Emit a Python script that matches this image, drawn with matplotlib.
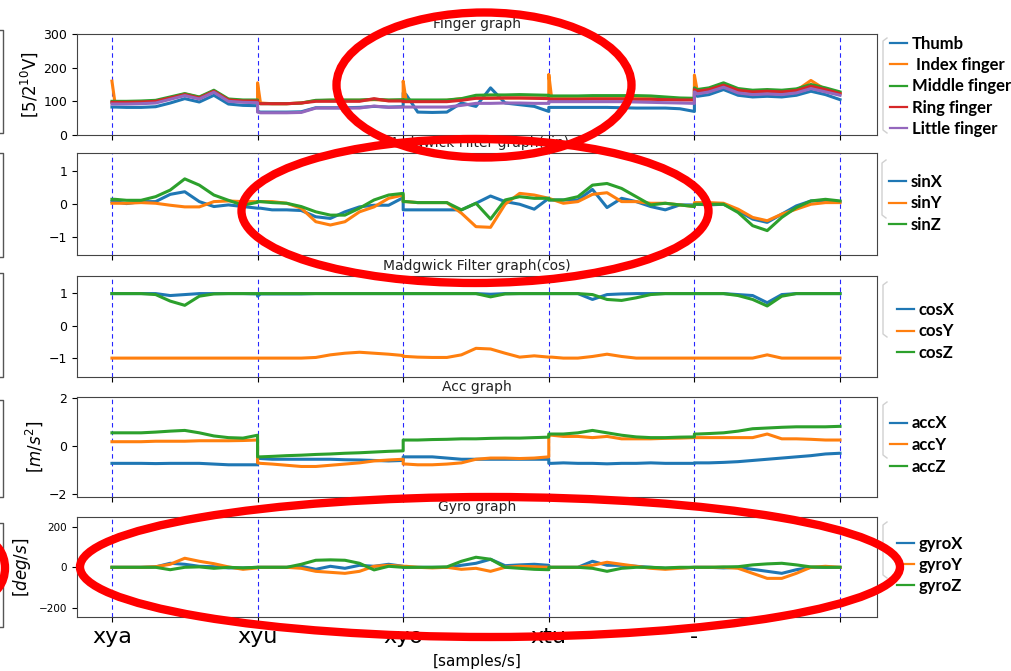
import matplotlib
matplotlib.use('Agg')
import matplotlib.pyplot as plt
from matplotlib.patches import Ellipse
from matplotlib.lines import Line2D
from matplotlib.font_manager import FontProperties

# ---------------- data ----------------
seg_offsets = [0.0, 0.02, 0.1, 0.2, 0.3, 0.4, 0.5, 0.6, 0.7, 0.8, 0.9, 1.0]
segments = [0, 1, 2, 3, 4]
x = [s + o for s in segments for o in seg_offsets]

segment_ticks = [0, 1, 2, 3, 4, 5]
tick_labels = ['xya', 'xyu', 'xyo', 'xtu', '-', '']

finger_labels = ['Thumb', ' Index finger', 'Middle finger', 'Ring finger', 'Little finger']
thumb = [83, 83, 82, 82, 84, 95, 108, 98, 118, 92, 88, 87,
         70, 68, 68, 68, 69, 81, 81, 81, 82, 85, 83, 84,
         125, 120, 68, 67, 68, 95, 85, 140, 95, 90, 85, 70,
         82, 82, 82, 82, 82, 82, 81, 80, 80, 80, 78, 70,
         120, 115, 120, 135, 118, 113, 115, 113, 118, 130, 120, 105]
index_f = [160, 98, 97, 97, 100, 110, 122, 112, 130, 105, 102, 102,
           155, 95, 93, 93, 95, 102, 103, 103, 103, 105, 103, 103,
           160, 103, 102, 102, 103, 108, 110, 110, 110, 110, 110, 110,
           180, 108, 108, 108, 108, 108, 108, 108, 108, 107, 106, 106,
           178, 130, 135, 150, 133, 128, 130, 128, 132, 162, 135, 123]
middle = [100, 100, 100, 101, 103, 113, 123, 113, 133, 107, 104, 104,
          95, 93, 93, 93, 95, 103, 104, 104, 104, 106, 104, 105,
          104, 104, 104, 104, 104, 108, 118, 119, 119, 120, 119, 118,
          116, 116, 116, 116, 117, 117, 117, 117, 116, 113, 110, 109,
          140, 135, 140, 155, 138, 133, 135, 133, 137, 150, 140, 128]
ring = [97, 97, 97, 98, 100, 110, 120, 110, 130, 104, 101, 101,
        95, 93, 93, 93, 95, 100, 100, 100, 100, 108, 101, 101,
        99, 99, 99, 99, 99, 103, 109, 109, 110, 110, 109, 108,
        106, 106, 106, 106, 107, 107, 107, 106, 106, 105, 104, 104,
        135, 130, 135, 148, 133, 128, 130, 128, 132, 145, 135, 123]
little = [92, 92, 92, 93, 95, 106, 117, 107, 127, 100, 97, 96,
          68, 66, 66, 66, 67, 80, 80, 80, 80, 86, 82, 83,
          83, 83, 83, 83, 83, 88, 94, 94, 95, 95, 94, 94,
          99, 99, 99, 99, 99, 99, 99, 98, 97, 96, 95, 94,
          128, 122, 128, 142, 125, 120, 122, 120, 125, 138, 128, 118]

sin_labels = ['sinX', 'sinY', 'sinZ']
sin_x = [0.08, 0.08, 0.02, 0.08, 0.08, 0.3, 0.38, 0.08, -0.07, -0.02, -0.07, -0.12,
         -0.12, -0.12, -0.17, -0.17, -0.19, -0.38, -0.43, -0.23, -0.08, -0.03, -0.03, 0.2,
         -0.17, -0.17, -0.17, -0.17, -0.17, -0.17, 0.03, 0.25, 0.08, 0.0, -0.15, 0.18,
         0.13, 0.13, 0.13, 0.13, 0.45, -0.1, 0.18, 0.08, -0.07, -0.17, -0.02, -0.02,
         0.0, 0.0, -0.02, 0.0, -0.2, -0.45, -0.55, -0.3, -0.05, 0.1, 0.12, 0.08]
sin_y = [0.03, 0.03, 0.03, 0.05, 0.03, -0.03, -0.08, -0.08, 0.08, 0.1, 0.08, 0.08,
         0.08, 0.08, 0.08, 0.03, -0.12, -0.53, -0.63, -0.53, -0.23, -0.08, 0.18, 0.28,
         0.08, 0.08, 0.05, 0.05, 0.05, -0.27, -0.68, -0.7, 0.0, 0.33, 0.28, 0.18,
         0.18, 0.15, 0.03, 0.08, 0.3, 0.35, 0.08, 0.08, 0.03, 0.03, -0.02, -0.07,
         0.05, 0.05, 0.05, 0.03, -0.15, -0.4, -0.5, -0.3, -0.15, 0.0, 0.05, 0.05]
sin_z = [0.15, 0.15, 0.12, 0.12, 0.23, 0.43, 0.77, 0.58, 0.28, 0.12, -0.03, 0.06,
         0.08, 0.08, 0.05, 0.03, -0.07, -0.23, -0.33, -0.33, -0.12, 0.13, 0.28, 0.33,
         0.08, 0.08, 0.05, 0.05, 0.05, -0.17, 0.03, -0.45, 0.13, 0.23, 0.18, 0.18,
         0.13, 0.13, 0.13, 0.23, 0.58, 0.63, 0.48, 0.23, -0.02, 0.03, -0.02, -0.07,
         0.0, 0.0, 0.0, 0.0, -0.25, -0.65, -0.8, -0.4, -0.1, 0.1, 0.15, 0.1]

cos_labels = ['cosX', 'cosY', 'cosZ']
cos_x = [0.98, 0.98, 0.98, 0.98, 0.98, 0.92, 0.95, 0.98, 0.98, 0.98, 0.98, 0.97,
         0.9, 0.97, 0.97, 0.97, 0.97, 0.98, 0.98, 0.98, 0.98, 0.98, 0.98, 0.98,
         0.98, 0.98, 0.98, 0.98, 0.98, 0.98, 0.98, 0.96, 0.98, 0.98, 0.98, 0.98,
         0.98, 0.98, 0.98, 0.98, 0.8, 0.95, 0.97, 0.98, 0.98, 0.98, 0.98, 0.98,
         0.98, 0.98, 0.98, 0.98, 0.95, 0.92, 0.7, 0.95, 0.98, 0.98, 0.98, 0.98]
cos_y = [-1.0, -1.0, -1.0, -1.0, -1.0, -1.0, -1.0, -1.0, -1.0, -1.0, -1.0, -1.0,
         -1.0, -1.0, -1.0, -1.0, -1.0, -0.98, -0.9, -0.85, -0.82, -0.85, -0.88, -0.92,
         -0.95, -0.95, -0.97, -0.98, -0.98, -0.9, -0.7, -0.72, -0.85, -0.97, -0.93, -0.97,
         -0.97, -0.97, -1.0, -1.0, -0.95, -0.88, -0.95, -1.0, -1.0, -1.0, -1.0, -1.0,
         -1.0, -1.0, -1.0, -1.0, -1.0, -1.0, -0.9, -1.0, -1.0, -1.0, -1.0, -1.0]
cos_z = [0.98, 0.98, 0.98, 0.98, 0.95, 0.75, 0.62, 0.9, 0.97, 0.98, 0.98, 0.98,
         0.98, 0.98, 0.98, 0.98, 0.98, 0.98, 0.98, 0.98, 0.98, 0.98, 0.98, 0.98,
         0.98, 0.98, 0.98, 0.98, 0.98, 0.98, 0.98, 0.88, 0.97, 0.98, 0.98, 0.98,
         0.98, 0.98, 0.98, 0.98, 0.95, 0.8, 0.77, 0.85, 0.95, 0.98, 0.98, 0.98,
         0.98, 0.98, 0.98, 0.98, 0.92, 0.8, 0.6, 0.9, 0.98, 0.98, 0.98, 0.98]

acc_labels = ['accX', 'accY', 'accZ']
acc_x = [-0.72, -0.72, -0.72, -0.72, -0.73, -0.72, -0.72, -0.72, -0.75, -0.78, -0.78, -0.78,
         -0.5, -0.52, -0.55, -0.55, -0.55, -0.55, -0.55, -0.57, -0.58, -0.6, -0.62, -0.6,
         -0.45, -0.45, -0.45, -0.45, -0.5, -0.55, -0.55, -0.55, -0.55, -0.55, -0.55, -0.55,
         -0.72, -0.72, -0.7, -0.72, -0.72, -0.74, -0.72, -0.72, -0.7, -0.72, -0.72, -0.72,
         -0.7, -0.7, -0.7, -0.68, -0.65, -0.6, -0.55, -0.5, -0.45, -0.4, -0.33, -0.3]
acc_y = [0.18, 0.18, 0.18, 0.18, 0.2, 0.2, 0.2, 0.22, 0.22, 0.22, 0.23, 0.25,
         -0.7, -0.72, -0.75, -0.8, -0.85, -0.85, -0.8, -0.75, -0.7, -0.62, -0.58, -0.55,
         -0.75, -0.75, -0.78, -0.78, -0.75, -0.7, -0.55, -0.5, -0.5, -0.52, -0.5, -0.45,
         0.45, 0.45, 0.4, 0.4, 0.35, 0.4, 0.3, 0.3, 0.3, 0.32, 0.33, 0.35,
         0.35, 0.35, 0.35, 0.35, 0.35, 0.35, 0.5, 0.3, 0.3, 0.28, 0.25, 0.25]
acc_z = [0.55, 0.55, 0.55, 0.55, 0.58, 0.62, 0.65, 0.55, 0.42, 0.35, 0.33, 0.45,
         -0.45, -0.45, -0.43, -0.4, -0.38, -0.35, -0.33, -0.3, -0.28, -0.25, -0.22, -0.2,
         0.25, 0.25, 0.25, 0.27, 0.28, 0.3, 0.3, 0.32, 0.33, 0.33, 0.35, 0.37,
         0.5, 0.5, 0.5, 0.55, 0.65, 0.55, 0.45, 0.38, 0.35, 0.35, 0.37, 0.38,
         0.5, 0.5, 0.52, 0.55, 0.62, 0.72, 0.75, 0.78, 0.8, 0.8, 0.8, 0.82]

gyro_labels = ['gyroX', 'gyroY', 'gyroZ']
gyro_x = [0, 0, 0, 0, 2, 20, 15, 5, 3, -3, -3, 0,
          0, 0, 0, 0, 5, -10, 5, -5, 10, 5, 15, 5,
          0, 0, 0, 0, 0, 10, 20, 40, 8, 12, 15, 10,
          0, 0, 0, 0, 30, 10, 10, 5, 0, -5, -3, 0,
          0, 0, 0, -3, 0, -10, -20, -30, -12, 0, 0, 0]
gyro_y = [0, 0, 0, 0, 3, 15, 45, 30, 18, 2, -10, -3,
          0, 0, 0, 0, -5, -20, -25, -30, -20, 5, 10, 5,
          5, 5, 0, -3, 0, -10, -5, -20, 0, 5, 3, 0,
          0, 0, 0, 0, 10, 25, 15, 5, -5, -10, -5, 0,
          0, 0, 0, 0, -5, -30, -55, -55, -30, 0, 5, 0]
gyro_z = [0, 0, 0, 0, 0, -12, 0, 2, -5, 0, -3, 0,
          0, 0, 0, 0, 15, 35, 37, 35, 20, -13, 5, 0,
          0, 0, 0, 0, 2, 30, 50, 40, 0, -5, -10, -12,
          0, 0, 0, 0, -5, -20, -5, 0, 0, -3, 0, 0,
          0, 0, 0, 2, 3, 12, 17, 20, 12, 2, 0, 0]

# ---------------- layout ----------------
W, H = 1011, 671
colors = ['#1f77b4', '#ff7f0e', '#2ca02c', '#d62728', '#9467bd']

fig = plt.figure(figsize=(W / 100, H / 100), dpi=100)

panels = [
    dict(top=34, bottom=135, title='Finger graph', series=[thumb, index_f, middle, ring, little],
         labels=finger_labels, ylim=(0, 300), yticks=[0, 100, 200, 300],
         ylabel='[5/2$^{10}$V]', ylx=40, leg=(890, 86.5), tfs=9, ls=0.32),
    dict(top=153, bottom=255, title='Madgwick Filter graph(sin)', series=[sin_x, sin_y, sin_z],
         labels=sin_labels, ylim=(-1.54, 1.555), yticks=[-1, 0, 1],
         ylabel=None, ylx=None, leg=(889, 203.5), tfs=9, ls=0.33),
    dict(top=276, bottom=377, title='Madgwick Filter graph(cos)', series=[cos_x, cos_y, cos_z],
         labels=cos_labels, ylim=(-1.58, 1.52), yticks=[-1, 0, 1],
         ylabel=None, ylx=None, leg=(897, 331.5), tfs=9, ls=0.33),
    dict(top=397, bottom=497, title='Acc graph', series=[acc_x, acc_y, acc_z],
         labels=acc_labels, ylim=(-2.12, 2.04), yticks=[-2, 0, 2],
         ylabel='[$m/s^2$]', ylx=45, leg=(890, 445), tfs=9, ls=0.33),
    dict(top=517, bottom=617, title='Gyro graph', series=[gyro_x, gyro_y, gyro_z],
         labels=gyro_labels, ylim=(-247, 250), yticks=[-200, 0, 200],
         ylabel='[$deg/s$]', ylx=33, leg=(897, 565), tfs=7.5, ls=0.3),
]

leg_font = FontProperties(family=['Lato', 'DejaVu Sans'], weight='bold', size=12)

for i, p in enumerate(panels):
    ax = fig.add_axes([77 / W, 1 - p['bottom'] / H, 800 / W, (p['bottom'] - p['top']) / H])
    handles = []
    for j, s in enumerate(p['series']):
        h, = ax.plot(x, s, color=colors[j], lw=2.2, solid_joinstyle='round')
        handles.append(h)
    for xv in segment_ticks:
        ax.axvline(xv, color='blue', ls=(0, (4, 3)), lw=0.8, alpha=0.85, zorder=0)
    ax.set_xlim(-0.24, 5.254)
    ax.set_ylim(*p['ylim'])
    ax.set_yticks(p['yticks'])
    ax.set_xticks(segment_ticks)
    ax.tick_params(axis='y', labelsize=p['tfs'])
    for sp in ax.spines.values():
        sp.set_color('#444444')
    ax.set_title(p['title'], fontsize=10, pad=4, color='#222222')
    if p['ylabel']:
        ax.set_ylabel(p['ylabel'], fontsize=12)
        ax.yaxis.set_label_coords((p['ylx'] - 77) / 800, 0.5)
    if i < len(panels) - 1:
        ax.set_xticklabels([])
    else:
        ax.set_xticklabels(tick_labels, fontsize=16)
        ax.set_xlabel('[samples/s]', fontsize=11, labelpad=5)
    lx, ly = p['leg']
    leg = ax.legend(handles, p['labels'], loc='center left',
                    bbox_to_anchor=(lx / W, 1 - ly / H), bbox_transform=fig.transFigure,
                    frameon=False, prop=leg_font, handlelength=1.0, handletextpad=0.3,
                    labelspacing=p['ls'], borderpad=0, borderaxespad=0)
    for lh in leg.get_lines():
        lh.set_linewidth(1.6)

# legend brackets (light grey) and cropped frames at the left edge
brackets = [(883, 38, 133), (882, 160, 218), (883, 282, 337), (883, 402, 458), (883, 522, 578)]
for bx, y1, y2 in brackets:
    fig.add_artist(Line2D([(bx + 4) / W, bx / W, bx / W, (bx + 4) / W],
                          [1 - y1 / H, 1 - (y1 + 3) / H, 1 - (y2 - 3) / H, 1 - y2 / H],
                          color='#d0d0d0', lw=1, transform=fig.transFigure))
left_frames = [(30, 133), (153, 257), (273, 377), (400, 497), (523, 627)]
for y1, y2 in left_frames:
    fig.add_artist(Line2D([0, 3 / W, 3 / W, 0], [1 - y1 / H, 1 - y1 / H, 1 - y2 / H, 1 - y2 / H],
                          color='#555555', lw=1, transform=fig.transFigure))

# red highlight ellipses (annotations on the original figure)
ellipses = [(484, 85, 295, 145), (475, 211, 467, 144), (490, 567, 820, 140), (-17, 568, 44, 56)]
for cx, cy, ew, eh in ellipses:
    fig.add_artist(Ellipse((cx / W, 1 - cy / H), ew / W, eh / H, transform=fig.transFigure,
                           fill=False, ec='#ff0000', lw=6, zorder=20))

fig.savefig('out.png', dpi=100)
